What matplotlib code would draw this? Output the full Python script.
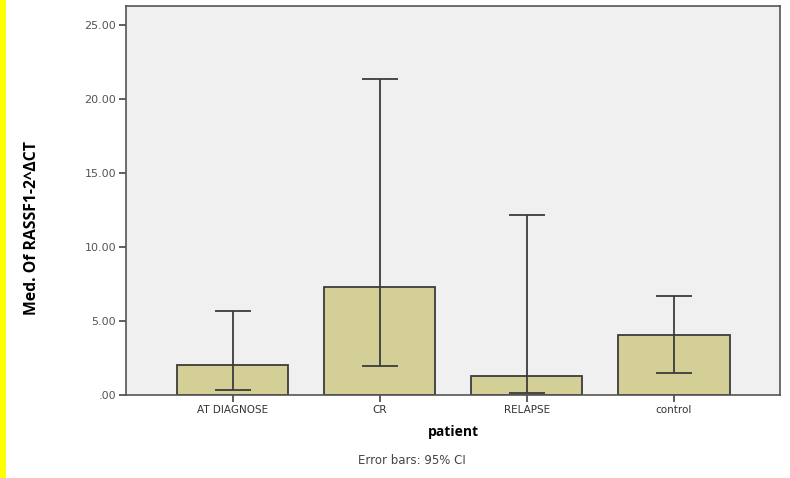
import matplotlib
matplotlib.use("Agg")
import matplotlib.pyplot as plt
import numpy as np
from matplotlib.patches import Rectangle

# --- data ---
categories = ["AT DIAGNOSE", "CR", "RELAPSE", "control"]
medians = [2.03, 7.28, 1.28, 4.05]
ci_low = [0.34, 1.96, 0.16, 1.50]
ci_high = [5.70, 21.35, 12.16, 6.69]
yticks = [0, 5, 10, 15, 20, 25]
ytick_labels = [".00", "5.00", "10.00", "15.00", "20.00", "25.00"]

fig = plt.figure(figsize=(7.9, 4.78), dpi=100)
fig.patch.set_facecolor("white")

# yellow strip on the left edge
fig.patches.append(Rectangle((0, 0), 6 / 790, 1, transform=fig.transFigure,
                             facecolor="#ffff00", edgecolor="none"))

ax = fig.add_axes([126 / 790, 1 - 395 / 478, (780 - 126) / 790, (395 - 6) / 478])
ax.set_facecolor("#f0f0f0")

x = np.arange(len(categories))
med = np.array(medians)
yerr = [med - np.array(ci_low), np.array(ci_high) - med]

ax.bar(x, med, width=0.755, color="#d4cf97", edgecolor="#3c3c3c", linewidth=1.3, zorder=2)
ax.errorbar(x, med, yerr=yerr, fmt="none", ecolor="#3c3c3c", elinewidth=1.3,
            capsize=13, capthick=1.3, zorder=3)

ax.set_xlim(-0.724, 3.72)
ax.set_ylim(0, 26.3)
ax.set_xticks(x)
ax.set_xticklabels(categories, fontsize=7.5, color="#333333")
ax.set_yticks(yticks)
ax.set_yticklabels(ytick_labels, fontsize=8, color="#555555")
ax.tick_params(axis="both", direction="out", length=5, width=1.2, color="#444444", pad=2)

for s in ax.spines.values():
    s.set_color("#555555")
    s.set_linewidth(1.2)

ax.set_xlabel("patient", fontsize=10, fontweight="bold",
              family=["Open Sans", "DejaVu Sans"])
ax.xaxis.set_label_coords((453 - 126) / 654, -30 / 389)
fig.text(32 / 790, 1 - 228 / 478, "Med. Of RASSF1-2^ΔCT", rotation=90, fontsize=11.3,
         fontweight="bold", ha="center", va="center", family=["Open Sans", "DejaVu Sans"])
fig.text(412 / 790, 1 - 460 / 478, "Error bars: 95% CI", fontsize=8.5, color="#444444",
         ha="center", va="center")

fig.savefig("out.png", dpi=100)
